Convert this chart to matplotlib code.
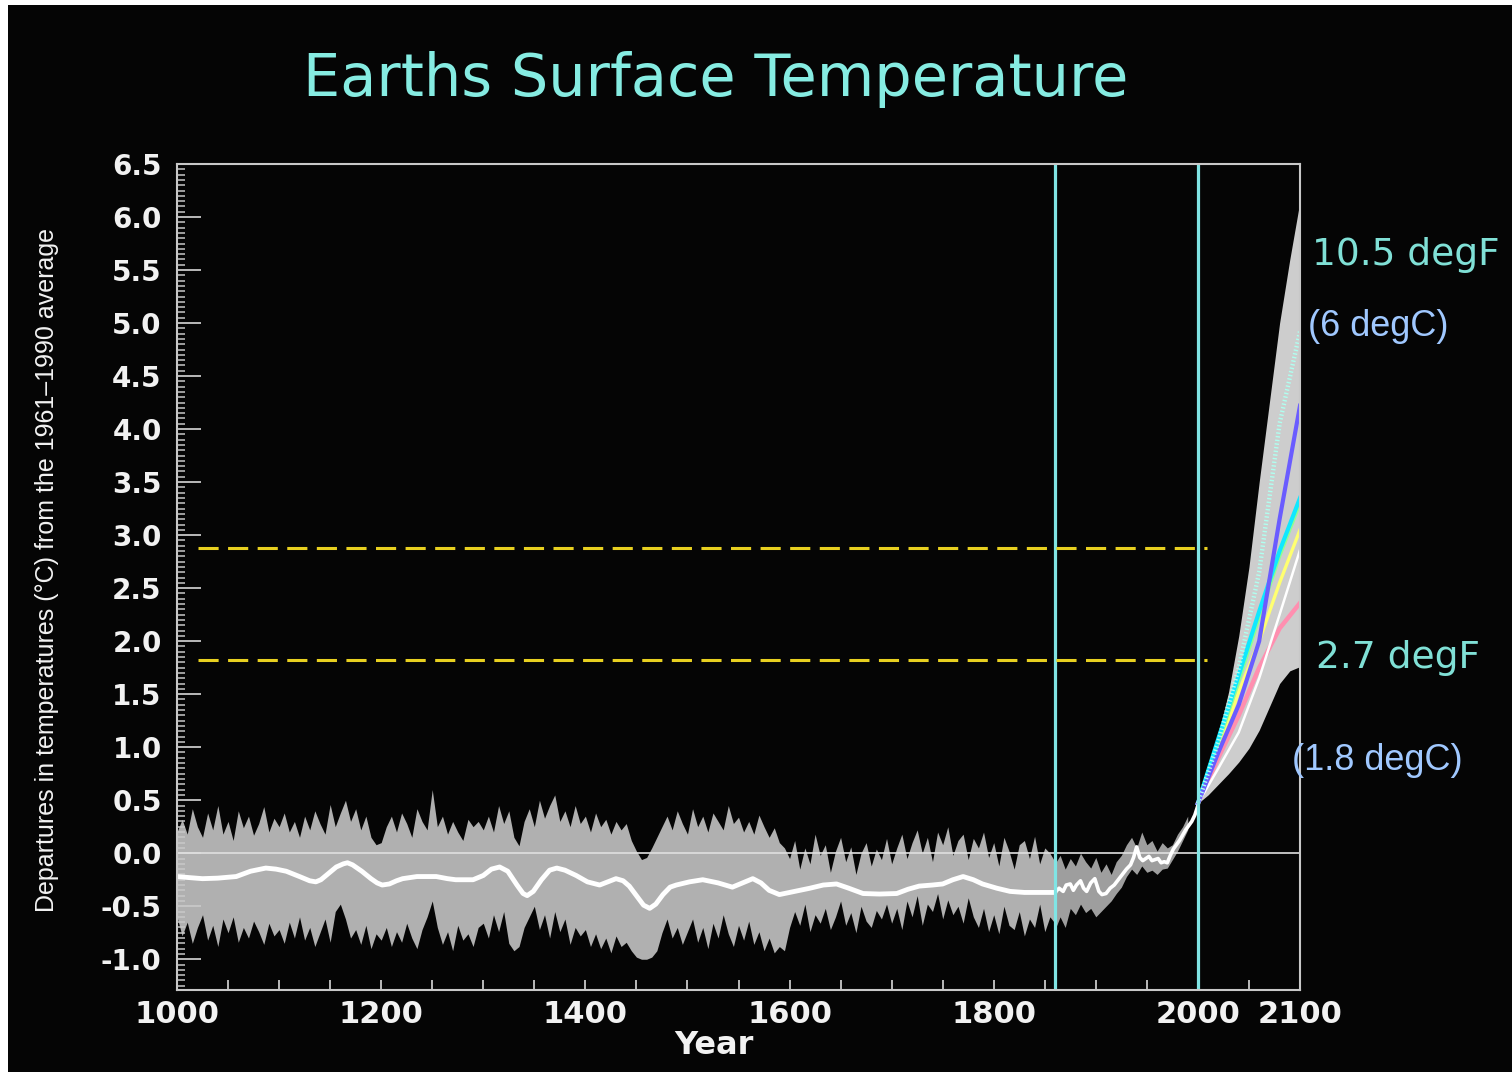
import numpy as np
import matplotlib
matplotlib.use("Agg")
import matplotlib.pyplot as plt
from matplotlib.patches import Rectangle
from matplotlib.ticker import FixedLocator, MultipleLocator, FixedFormatter

plt.rcParams['axes.unicode_minus'] = False
plt.rcParams['lines.scale_dashes'] = False

# ---------------- data ----------------
recon_years = np.arange(1000, 1861, 5)
recon_upper = [
    0.20, 0.32, 0.18, 0.42, 0.25, 0.15, 0.38, 0.22, 0.45, 0.18, 0.30, 0.12, 0.40, 0.24, 0.35, 0.17, 0.28, 0.44, 0.20, 0.33,
    0.25, 0.38, 0.20, 0.30, 0.15, 0.35, 0.22, 0.40, 0.28, 0.18, 0.46, 0.25, 0.38, 0.50, 0.30, 0.42, 0.22, 0.35, 0.15, 0.08,
    0.10, 0.25, 0.35, 0.20, 0.38, 0.28, 0.15, 0.42, 0.30, 0.22, 0.60, 0.25, 0.35, 0.18, 0.30, 0.20, 0.12, 0.32, 0.25, 0.30,
    0.22, 0.35, 0.20, 0.45, 0.28, 0.40, 0.15, 0.07, 0.30, 0.42, 0.25, 0.50, 0.33, 0.45, 0.55, 0.30, 0.40, 0.25, 0.45, 0.28,
    0.35, 0.20, 0.38, 0.25, 0.32, 0.18, 0.30, 0.22, 0.28, 0.12, 0.02, -0.06, -0.04, 0.05, 0.15, 0.25, 0.35, 0.22, 0.40, 0.28,
    0.18, 0.42, 0.25, 0.35, 0.20, 0.38, 0.30, 0.22, 0.45, 0.28, 0.34, 0.20, 0.30, 0.18, 0.36, 0.25, 0.15, 0.24, 0.10, 0.05,
    -0.05, 0.12, -0.15, 0.05, -0.10, 0.18, -0.02, 0.08, -0.18, 0.02, 0.15, -0.08, 0.06, -0.20, 0.00, 0.10, -0.12, 0.04, -0.06, 0.14,
    -0.10, 0.05, 0.18, -0.05, 0.10, 0.22, 0.00, 0.15, -0.08, 0.20, 0.08, 0.25, -0.02, 0.12, 0.18, -0.06, 0.14, 0.05, 0.20, -0.04,
    0.10, -0.12, 0.15, 0.02, -0.15, 0.08, 0.12, -0.05, 0.16, -0.10, 0.05, 0.00, -0.08,
]
recon_lower = [
    -0.60, -0.78, -0.65, -0.85, -0.70, -0.58, -0.82, -0.68, -0.88, -0.62, -0.75, -0.60, -0.84, -0.70, -0.80, -0.64, -0.74, -0.86, -0.66, -0.78,
    -0.72, -0.85, -0.65, -0.80, -0.60, -0.82, -0.70, -0.88, -0.75, -0.62, -0.84, -0.55, -0.48, -0.62, -0.80, -0.72, -0.86, -0.68, -0.90, -0.76,
    -0.82, -0.70, -0.88, -0.74, -0.84, -0.66, -0.80, -0.90, -0.72, -0.60, -0.45, -0.70, -0.86, -0.74, -0.92, -0.68, -0.82, -0.76, -0.88, -0.70,
    -0.66, -0.80, -0.58, -0.74, -0.55, -0.85, -0.92, -0.88, -0.70, -0.60, -0.50, -0.72, -0.58, -0.80, -0.55, -0.74, -0.62, -0.86, -0.70, -0.78,
    -0.72, -0.88, -0.76, -0.90, -0.80, -0.94, -0.78, -0.88, -0.84, -0.92, -0.98, -1.00, -1.00, -0.98, -0.92, -0.75, -0.62, -0.80, -0.70, -0.86,
    -0.74, -0.62, -0.84, -0.70, -0.90, -0.66, -0.80, -0.58, -0.76, -0.88, -0.68, -0.82, -0.64, -0.86, -0.74, -0.92, -0.80, -0.94, -0.88, -0.92,
    -0.70, -0.55, -0.68, -0.48, -0.74, -0.58, -0.66, -0.52, -0.72, -0.60, -0.45, -0.68, -0.56, -0.75, -0.50, -0.64, -0.70, -0.54, -0.62, -0.48,
    -0.66, -0.52, -0.72, -0.45, -0.60, -0.40, -0.68, -0.48, -0.55, -0.38, -0.62, -0.44, -0.58, -0.50, -0.66, -0.42, -0.60, -0.70, -0.52, -0.74,
    -0.58, -0.76, -0.50, -0.68, -0.72, -0.55, -0.78, -0.62, -0.70, -0.48, -0.74, -0.60, -0.66,
]

smooth_years = [1000, 1012, 1025, 1040, 1058, 1072, 1087, 1097, 1107, 1120,
                1130, 1136, 1141, 1146, 1156, 1163, 1167, 1172, 1181, 1190,
                1196, 1201, 1208, 1215, 1221, 1235, 1254, 1265, 1273, 1290,
                1300, 1308, 1316, 1324, 1333, 1339, 1343, 1349, 1357, 1365,
                1372, 1380, 1391, 1402, 1414, 1422, 1430, 1437, 1443, 1450,
                1457, 1463, 1469, 1476, 1483, 1489, 1502, 1515, 1530, 1544,
                1554, 1564, 1572, 1580, 1590, 1600, 1610, 1620, 1633, 1646,
                1658, 1672, 1688, 1705, 1716, 1727, 1740, 1750, 1760, 1770,
                1780, 1789, 1803, 1816, 1830, 1842, 1860]
smooth_vals = [-0.22, -0.23, -0.24, -0.235, -0.22, -0.17, -0.14, -0.15, -0.17, -0.22,
               -0.26, -0.27, -0.25, -0.21, -0.13, -0.10, -0.09, -0.11, -0.17, -0.24,
               -0.28, -0.30, -0.29, -0.26, -0.24, -0.22, -0.22, -0.24, -0.25, -0.25,
               -0.21, -0.15, -0.13, -0.17, -0.30, -0.38, -0.40, -0.36, -0.25, -0.16,
               -0.14, -0.16, -0.21, -0.27, -0.30, -0.27, -0.24, -0.26, -0.31, -0.40,
               -0.49, -0.52, -0.48, -0.39, -0.32, -0.30, -0.27, -0.25, -0.28, -0.32,
               -0.28, -0.24, -0.28, -0.35, -0.39, -0.37, -0.35, -0.33, -0.30, -0.29,
               -0.33, -0.38, -0.385, -0.38, -0.34, -0.31, -0.30, -0.29, -0.25, -0.22,
               -0.25, -0.29, -0.33, -0.36, -0.37, -0.37, -0.37]

instr_band_years = np.arange(1860, 1991, 5)
instr_band_upper = [-0.10, -0.02, -0.15, -0.05, -0.12, 0.00, -0.08, -0.14, -0.04, -0.18,
                    -0.10, -0.20, -0.08, -0.02, 0.08, 0.15, 0.05, 0.20, 0.08, 0.12,
                    0.02, 0.10, 0.05, 0.08, 0.18, 0.25, 0.35]
instr_band_lower = [-0.72, -0.60, -0.70, -0.52, -0.58, -0.48, -0.56, -0.52, -0.60, -0.55,
                    -0.50, -0.45, -0.38, -0.32, -0.22, -0.15, -0.20, -0.12, -0.18, -0.16,
                    -0.20, -0.15, -0.14, -0.06, 0.02, 0.12, 0.22]

instr_years = [1860, 1864, 1868, 1871, 1875, 1878, 1881, 1885, 1888, 1891, 1895, 1899, 1903, 1906, 1910,
               1914, 1918, 1922, 1926, 1930, 1934, 1937, 1940, 1943, 1946, 1949, 1952, 1955, 1958, 1961,
               1964, 1967, 1970, 1973, 1976, 1979, 1982, 1985, 1988, 1991, 1994, 1997, 2000]
instr_vals = [-0.37, -0.33, -0.36, -0.30, -0.29, -0.35, -0.30, -0.26, -0.33, -0.36, -0.28, -0.24, -0.36, -0.39, -0.38,
              -0.33, -0.30, -0.25, -0.20, -0.15, -0.11, -0.04, 0.06, -0.04, -0.07, -0.05, -0.03, -0.07, -0.06, -0.05,
              -0.09, -0.08, -0.09, -0.02, 0.04, 0.08, 0.12, 0.17, 0.22, 0.26, 0.30, 0.36, 0.45]

proj_years = [2000, 2010, 2020, 2030, 2040, 2050, 2060, 2070, 2080, 2090, 2100]
proj_upper = [0.47, 0.78, 1.12, 1.52, 2.05, 2.70, 3.50, 4.25, 5.00, 5.60, 6.15]
proj_lower = [0.47, 0.55, 0.65, 0.75, 0.86, 0.99, 1.16, 1.38, 1.60, 1.72, 1.76]

scen_years = [2000, 2020, 2040, 2060, 2080, 2100]
scen_a1fi = [0.47, 1.05, 1.75, 2.65, 4.05, 4.92]
scen_a2 = [0.47, 0.95, 1.40, 2.00, 3.15, 4.22]
scen_a1b = [0.47, 1.08, 1.68, 2.28, 2.85, 3.35]
scen_a1t = [0.47, 1.04, 1.62, 2.22, 2.80, 3.30]
scen_b2 = [0.47, 0.98, 1.52, 2.00, 2.55, 3.05]
scen_is92 = [0.47, 0.80, 1.14, 1.65, 2.25, 2.86]
scen_b1 = [0.47, 0.90, 1.30, 1.75, 2.12, 2.36]

marker_years = [1860, 2000]
threshold_levels = [2.88, 1.82]
threshold_span = [1021, 2009]

yticks = [-1.0, -0.5, 0.0, 0.5, 1.0, 1.5, 2.0, 2.5, 3.0, 3.5, 4.0, 4.5, 5.0, 5.5, 6.0, 6.5]
xticks_labeled = [1000, 1200, 1400, 1600, 1800, 2000, 2100]

# ---------------- figure ----------------
W, H = 1512, 1072
BG = '#050505'
fig = plt.figure(figsize=(W / 100, H / 100), dpi=100, facecolor=BG)
ax = fig.add_axes([177 / W, 82 / H, 1123 / W, 826 / H], facecolor=BG)
ax.set_xlim(1000, 2100)
ax.set_ylim(-1.29, 6.5)

band_col = '#b0b0b0'
ax.fill_between(recon_years, recon_lower, recon_upper, color=band_col, lw=0, zorder=1)
ax.fill_between(instr_band_years, instr_band_lower, instr_band_upper, color=band_col,
                alpha=0.9, lw=0, zorder=1)
ax.fill_between(proj_years, proj_lower, proj_upper, color='#cdcdcd', lw=0, zorder=1)

ax.axhline(0.0, color='#e0e0e0', lw=1.2, zorder=2)

ax.plot(smooth_years, smooth_vals, color='white', lw=3.5, solid_joinstyle='round',
        solid_capstyle='round', zorder=4)
ax.plot(instr_years, instr_vals, color='white', lw=2.6, solid_joinstyle='round', zorder=4)

scen_styles = [
    (scen_b1, '#ff8fb0', '-', 3.2),
    (scen_is92, '#ffffff', '-', 1.8),
    (scen_b2, '#ffff70', '-', 2.4),
    (scen_a1t, '#90ff90', '-', 2.4),
    (scen_a1b, '#10e8ff', '-', 3.0),
    (scen_a2, '#6a5cff', '-', 3.0),
    (scen_a1fi, '#b0fff0', ':', 3.2),
]
for vals, col, ls, lw in scen_styles:
    ax.plot(scen_years, vals, color=col, ls=ls, lw=lw, zorder=3, solid_joinstyle='round')

for xv in marker_years:
    ax.axvline(xv, color='#80e4e4', lw=2.3, zorder=5)

for yv in threshold_levels:
    ax.plot(threshold_span, [yv, yv], color='#e8d020', lw=2.2, dashes=(14.5, 6.8), zorder=6)

# axes styling
for sp in ax.spines.values():
    sp.set_color('#c8c8c8')
    sp.set_linewidth(1.5)
    sp.set_zorder(7)

ax.yaxis.set_major_locator(FixedLocator(yticks))
ax.yaxis.set_major_formatter(FixedFormatter(['%.1f' % v for v in yticks]))
ax.yaxis.set_minor_locator(MultipleLocator(0.05))
ax.tick_params(axis='y', which='major', direction='in', length=17, width=1.3, color='#c8c8c8',
               pad=11, labelsize=20, labelcolor='#f2f2f2')
ax.tick_params(axis='y', which='minor', direction='in', length=6, width=1.1, color='#c8c8c8')

ax.xaxis.set_major_locator(FixedLocator(xticks_labeled))
ax.xaxis.set_major_formatter(FixedFormatter([str(v) for v in xticks_labeled]))
ax.xaxis.set_minor_locator(MultipleLocator(50))
ax.tick_params(axis='x', which='major', direction='in', length=7, width=1.3, color='#c8c8c8',
               pad=7, labelsize=22, labelcolor='#f2f2f2')
ax.tick_params(axis='x', which='minor', direction='in', length=7, width=1.3, color='#c8c8c8')
for lab in ax.get_xticklabels() + ax.get_yticklabels():
    lab.set_fontweight('bold')
    lab.set_family('DejaVu Sans')

# texts
fig.text(716 / W, 1 - 80 / H, 'Earths Surface Temperature', ha='center', va='center',
         fontsize=42.5, color='#86ece2', family='DejaVu Sans')
fig.text(714 / W, 1 - 1045 / H, 'Year', ha='center', va='center', fontsize=23,
         fontweight='bold', color='#f2f2f2', family='DejaVu Sans')
fig.text(47 / W, 1 - 570 / H, 'Departures in temperatures (\u00b0C) from the 1961\u20131990 average',
         rotation=90, ha='center', va='center', fontsize=18, color='#f2f2f2', family='Liberation Sans')

fig.text(1312 / W, 1 - 255 / H, '10.5 degF', ha='left', va='center', fontsize=27,
         color='#80e0d6', family='DejaVu Sans')
fig.text(1308 / W, 1 - 327 / H, '(6 degC)', ha='left', va='center', fontsize=26,
         color='#a0c8ff', family='Liberation Sans')
fig.text(1316 / W, 1 - 658 / H, '2.7 degF', ha='left', va='center', fontsize=27,
         color='#80e0d6', family='DejaVu Sans')
fig.text(1292 / W, 1 - 760 / H, '(1.8 degC)', ha='left', va='center', fontsize=26,
         color='#a0c8ff', family='Liberation Sans')

# white border strips of the original picture
fig.add_artist(Rectangle((0, 0), 8 / W, 1, transform=fig.transFigure, color='white', lw=0))
fig.add_artist(Rectangle((0, 1 - 5 / H), 1, 5 / H, transform=fig.transFigure, color='white', lw=0))

fig.savefig('out.png', dpi=100, facecolor=BG)
